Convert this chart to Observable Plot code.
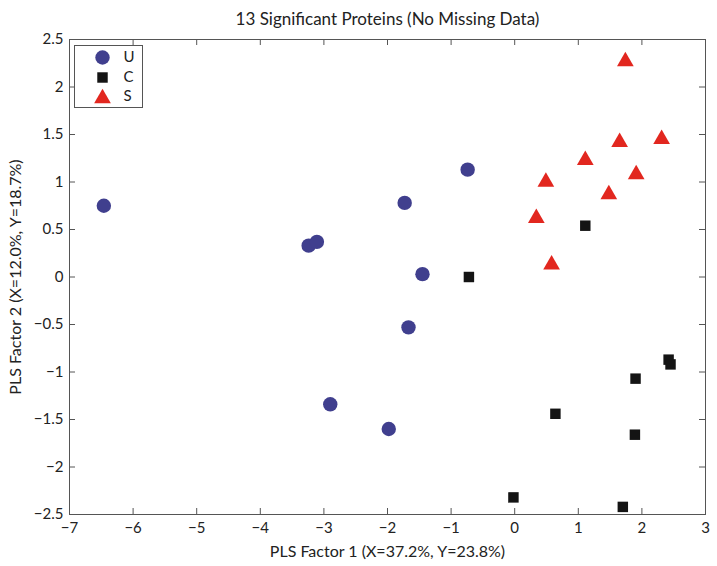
<!DOCTYPE html>
<html>
<head>
<meta charset="utf-8">
<script src="https://cdn.jsdelivr.net/npm/d3@7"></script>
<script src="https://cdn.jsdelivr.net/npm/@observablehq/plot@0.6"></script>
<style>
  html, body { margin: 0; padding: 0; background: #fff; }
</style>
</head>
<body>
<div id="chart"></div>
<script>
// Data
const groups = ["U", "C", "S"];
const uX = [-6.46, -0.74, -1.73, -3.24, -3.11, -1.45, -1.67, -2.90, -1.98];
const uY = [0.75, 1.13, 0.78, 0.33, 0.37, 0.03, -0.53, -1.34, -1.60];
const cX = [-0.72, 1.11, 2.42, 2.45, 1.90, 0.64, 1.89, -0.02, 1.70];
const cY = [0.00, 0.54, -0.87, -0.92, -1.07, -1.44, -1.66, -2.32, -2.42];
const sX = [1.74, 1.65, 2.31, 1.11, 1.91, 0.49, 1.48, 0.34, 0.58];
const sY = [2.27, 1.42, 1.45, 1.23, 1.08, 1.00, 0.87, 0.62, 0.13];
const xTicks = [-7, -6, -5, -4, -3, -2, -1, 0, 1, 2, 3];
const yTicks = [-2.5, -2, -1.5, -1, -0.5, 0, 0.5, 1, 1.5, 2, 2.5];
const title = "13 Significant Proteins (No Missing Data)";
const xLabel = "PLS Factor 1 (X=37.2%, Y=23.8%)";
const yLabel = "PLS Factor 2 (X=12.0%, Y=18.7%)";

const colors = {U: "#403f8e", C: "#141414", S: "#e2271f"};

const toRows = (xs, ys, g) => xs.map((x, i) => ({x, y: ys[i], g}));
const uRows = toRows(uX, uY, "U");
const cRows = toRows(cX, cY, "C");
const sRows = toRows(sX, sY, "S");

const W = 717, H = 566;
const mL = 69, mR = 12, mT = 39, mB = 52;
const innerW = W - mL - mR, innerH = H - mT - mB;
const tick = 6;
const axisColor = "#555";
const fmt = d => String(d).replace("-", "\u2212");

const legendRows = [0, 1, 2];
const legendDy = [18, 38, 57];

const chart = Plot.plot({
  width: W, height: H,
  marginLeft: mL, marginRight: mR, marginTop: mT, marginBottom: mB,
  style: {fontFamily: "Lato, 'Open Sans', sans-serif", fontSize: "15px", color: "#222", background: "#fff"},
  x: {domain: [-7, 3]},
  y: {domain: [-2.5, 2.5]},
  marks: [
    // axes labels (tick labels only)
    Plot.axisX(xTicks, {tickSize: 0, tickPadding: 8, tickFormat: fmt, label: null, fontSize: 15}),
    Plot.axisY(yTicks, {tickSize: 0, tickPadding: 6, tickFormat: fmt, label: null, fontSize: 15}),
    // inward ticks on all four sides
    Plot.tickX(xTicks, {x: d => d, insetTop: innerH - tick, stroke: axisColor}),
    Plot.tickX(xTicks, {x: d => d, insetBottom: innerH - tick, stroke: axisColor}),
    Plot.tickY(yTicks, {y: d => d, insetRight: innerW - tick, stroke: axisColor}),
    Plot.tickY(yTicks, {y: d => d, insetLeft: innerW - tick, stroke: axisColor}),
    Plot.frame({stroke: axisColor, strokeWidth: 1}),
    // data
    Plot.dot(uRows, {x: "x", y: "y", r: 7.2, symbol: "circle", fill: colors.U, stroke: null}),
    Plot.dot(cRows, {x: "x", y: "y", r: 5.9, symbol: "square", fill: colors.C, stroke: null}),
    Plot.dot(sRows, {x: "x", y: "y", r: 6.2, symbol: "triangle", fill: colors.S, stroke: null}),
    // legend box
    Plot.frame({insetLeft: 5, insetTop: 6, insetRight: innerW - 73, insetBottom: innerH - 68, stroke: axisColor, fill: "#fff"}),
    Plot.dot([groups[0]], {frameAnchor: "top-left", dx: 33, dy: legendDy[0], r: 7.2, symbol: "circle", fill: colors.U, stroke: null}),
    Plot.dot([groups[1]], {frameAnchor: "top-left", dx: 33, dy: legendDy[1], r: 5.9, symbol: "square", fill: colors.C, stroke: null}),
    Plot.dot([groups[2]], {frameAnchor: "top-left", dx: 33, dy: legendDy[2] + 2, r: 6.2, symbol: "triangle", fill: colors.S, stroke: null}),
    ...legendRows.map(i => Plot.text([groups[i]], {text: d => d, frameAnchor: "top-left", dx: 54, dy: legendDy[i], lineAnchor: "middle", textAnchor: "start", fontSize: 15, fill: "#222"})),
    // title and axis labels
    Plot.text([title], {text: d => d, frameAnchor: "top", dy: -20, lineAnchor: "middle", textAnchor: "middle", fontSize: 17, fill: "#222"}),
    Plot.text([xLabel], {text: d => d, frameAnchor: "bottom", dy: 37, lineAnchor: "middle", textAnchor: "middle", fontSize: 16, fill: "#222"}),
    Plot.text([yLabel], {text: d => d, frameAnchor: "left", dx: -54, rotate: -90, lineAnchor: "middle", textAnchor: "middle", fontSize: 16, fill: "#222"})
  ]
});
document.getElementById("chart").append(chart);
</script>
</body>
</html>
